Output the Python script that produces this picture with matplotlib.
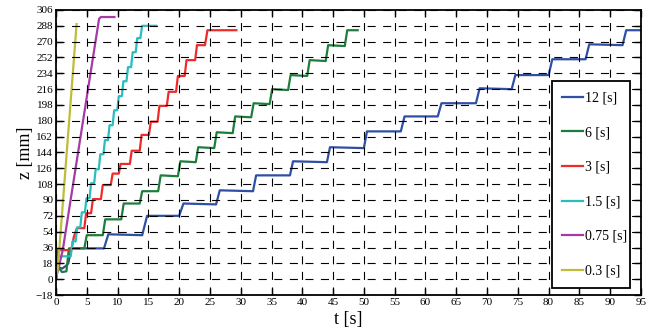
import matplotlib
matplotlib.use("Agg")
import matplotlib.pyplot as plt

plt.rcParams['font.family'] = ['Liberation Serif', 'DejaVu Serif']
plt.rcParams['lines.scale_dashes'] = False

# ---- data ----
labels = ['12 [s]', '6 [s]', '3 [s]', '1.5 [s]', '0.75 [s]', '0.3 [s]']
colors = ['#2f4fa6', '#1f7d3c', '#f02a2a', '#2bbdbd', '#a63aa6', '#bdbd3a']

t_12 = [0, 0.3, 1.0, 1.6, 2.0, 2.5, 7.8, 8.5, 14.0, 14.8, 20.0, 20.7, 26.0, 26.6, 32.0, 32.5,
        38.0, 38.5, 44.0, 44.5, 50.0, 50.5, 56.0, 56.6, 62.0, 62.6, 68.2, 68.8, 74.0, 74.6,
        80.0, 80.6, 86.0, 86.6, 92.0, 92.6, 95.0]
z_12 = [0, 14, 12, 15, 18, 35, 35, 51, 50, 72, 72, 86, 85, 101, 100, 118, 118, 134, 133, 150,
        149, 168, 168, 185, 185, 200, 200, 217, 216, 232, 232, 250, 250, 267, 266, 283, 283]

t_6 = [0, 0.3, 1.0, 1.7, 2.1, 4.6, 5.0, 7.6, 8.0, 10.6, 11.0, 13.6, 14.0, 16.6, 17.0, 19.8,
       20.2, 22.7, 23.1, 25.7, 26.1, 28.7, 29.1, 31.7, 32.1, 34.7, 35.1, 37.7, 38.1, 40.8,
       41.2, 43.8, 44.2, 46.9, 47.3, 49.0]
z_6 = [0, 14, 8, 9, 35, 35, 50, 50, 68, 68, 86, 86, 100, 100, 118, 117, 134, 133, 150, 149,
       167, 166, 185, 184, 200, 199, 216, 215, 232, 231, 249, 248, 266, 265, 283, 283]

t_3 = [0, 0.3, 2.5, 2.9, 3.4, 4.6, 4.9, 5.7, 6.0, 7.3, 7.6, 8.9, 9.2, 10.2, 10.5, 12.0, 12.3,
       13.6, 13.9, 15.1, 15.4, 16.5, 16.8, 18.0, 18.3, 19.5, 19.8, 20.9, 21.2, 22.6, 22.9,
       24.2, 24.6, 29.3]
z_3 = [0, 33, 33, 48, 58, 58, 75, 75, 91, 91, 107, 107, 120, 120, 131, 131, 146, 146, 164,
       164, 179, 179, 197, 197, 213, 213, 231, 231, 249, 249, 266, 266, 283, 283]

t_15 = [0, 0.4, 2.4, 2.7, 3.2, 3.45, 3.95, 4.2, 4.7, 4.95, 5.45, 5.7, 6.2, 6.45, 6.95, 7.2,
        7.7, 7.95, 8.45, 8.7, 9.2, 9.45, 9.95, 10.2, 10.7, 10.95, 11.45, 11.7, 12.2, 12.45,
        12.95, 13.2, 13.7, 14.0, 16.3]
z_15 = [0, 26, 26, 43, 43, 59, 59, 76, 76, 92, 92, 109, 109, 125, 125, 142, 142, 158, 158,
        175, 175, 192, 192, 208, 208, 225, 225, 241, 241, 258, 258, 274, 274, 288, 288]

t_075 = [0, 0.5, 1.1, 7.0, 7.3, 9.5]
z_075 = [2, 15, 33, 296, 298, 298]

t_03 = [0, 0.3, 3.35]
z_03 = [2, 12, 290]

x_ticks = list(range(0, 96, 5))
y_ticks = list(range(-18, 307, 18))

series = [(t_12, z_12), (t_6, z_6), (t_3, z_3), (t_15, z_15), (t_075, z_075), (t_03, z_03)]

# ---- figure ----
fig = plt.figure(figsize=(6.6, 3.33), dpi=100)
ax = fig.add_axes([0.0848, 0.1141, 0.8864, 0.8559])

for (t, z), c, lab in zip(series, colors, labels):
    ax.plot(t, z, color=c, lw=1.6, label=lab)

ax.set_xlim(0, 95)
ax.set_ylim(-18, 306)
ax.set_xticks(x_ticks)
ax.set_yticks(y_ticks)
ax.tick_params(direction='in', top=True, right=True, length=5, width=1.0,
               labelsize=8, pad=2)
for s in ax.spines.values():
    s.set_linewidth(1.3)
ax.grid(True, color='black', linestyle=(0, (5.8, 5.4)), linewidth=0.8)
ax.set_axisbelow(False)

ax.set_xlabel('t [s]', fontsize=13, labelpad=3)
ax.set_ylabel('z [mm]', fontsize=13, labelpad=1)

leg = ax.legend(loc='lower left', bbox_to_anchor=(0.848, 0.025, 0.133, 0.733),
                mode='expand', fontsize=10, frameon=True, fancybox=False,
                handlelength=1.5, handletextpad=0.1, labelspacing=1.55,
                borderpad=0.75, borderaxespad=0)
fr = leg.get_frame()
fr.set_edgecolor('black')
fr.set_linewidth(1.3)
fr.set_alpha(1)
for h in leg.get_lines():
    h.set_linewidth(1.6)

fig.savefig('out.png', dpi=100)
